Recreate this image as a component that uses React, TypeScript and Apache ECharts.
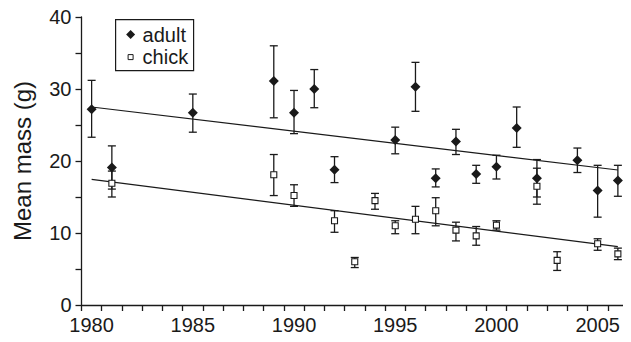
import React, { useEffect, useRef } from "react";
import * as echarts from "echarts";

const adultYears = [1980, 1981, 1985, 1989, 1990, 1991, 1992, 1995, 1996, 1997, 1998, 1999, 2000, 2001, 2002, 2004, 2005, 2006];
const adultMean = [27.2, 19.1, 26.7, 31.1, 26.7, 30.0, 18.8, 22.9, 30.3, 17.6, 22.7, 18.2, 19.2, 24.6, 17.6, 20.1, 15.9, 17.3];
const adultLow = [23.3, 16.1, 24.0, 26.0, 23.8, 27.4, 17.0, 21.0, 26.9, 16.4, 20.9, 16.9, 17.5, 21.9, 15.0, 18.4, 12.2, 15.1];
const adultHigh = [31.2, 22.1, 29.3, 36.0, 29.8, 32.7, 20.6, 24.7, 33.7, 18.9, 24.4, 19.4, 20.8, 27.5, 20.2, 21.8, 19.4, 19.4];

const chickYears = [1981, 1989, 1990, 1992, 1993, 1994, 1995, 1996, 1997, 1998, 1999, 2000, 2002, 2003, 2005, 2006];
const chickMean = [16.9, 18.1, 15.2, 11.7, 6.0, 14.5, 11.0, 11.9, 13.1, 10.4, 9.6, 11.1, 16.5, 6.2, 8.5, 7.1];
const chickLow = [15.0, 15.2, 13.7, 10.1, 5.2, 13.3, 9.9, 9.9, 11.0, 8.9, 8.3, 10.4, 14.0, 4.8, 7.6, 6.3];
const chickHigh = [18.6, 20.9, 16.7, 13.1, 6.6, 15.5, 11.7, 13.7, 14.9, 11.5, 10.9, 11.7, 19.0, 7.4, 9.2, 7.9];

const fitYears = [1980, 2006];
const adultFit = [27.5, 18.75];
const chickFit = [17.45, 8.1];

const xLabelYears = [1980, 1985, 1990, 1995, 2000, 2005];
const yLabelValues = [0, 10, 20, 30, 40];

const FONT = '"Liberation Sans", Arial, Helvetica, sans-serif';
const INK = "#1a1a1a";

function errorBarRender(params: any, api: any) {
  const x = api.value(0);
  const lo = api.coord([x, api.value(1)]);
  const hi = api.coord([x, api.value(2)]);
  const hw = 4;
  const style = { stroke: INK, lineWidth: 1.3 };
  return {
    type: "group",
    children: [
      { type: "line", shape: { x1: lo[0], y1: lo[1], x2: hi[0], y2: hi[1] }, style },
      { type: "line", shape: { x1: lo[0] - hw, y1: lo[1], x2: lo[0] + hw, y2: lo[1] }, style },
      { type: "line", shape: { x1: hi[0] - hw, y1: hi[1], x2: hi[0] + hw, y2: hi[1] }, style },
    ],
  };
}

export default function App() {
  const ref = useRef<HTMLDivElement>(null);
  useEffect(() => {
    if (!ref.current) return;
    const chart = echarts.init(ref.current, undefined, { renderer: "svg" });
    const adultBars = adultYears.map((y, i) => [y, adultLow[i], adultHigh[i]]);
    const chickBars = chickYears.map((y, i) => [y, chickLow[i], chickHigh[i]]);
    chart.setOption({
      animation: false,
      backgroundColor: "#fff",
      textStyle: { fontFamily: FONT },
      grid: { left: 81.5, top: 17, right: -1.8, bottom: 37, containLabel: false },
      xAxis: [
        {
          type: "value",
          min: 1979.5,
          max: 2006.5,
          interval: 1,
          axisLine: { show: true, lineStyle: { color: INK, width: 1.3 } },
          axisTick: { show: true, length: 6, inside: false, lineStyle: { color: INK, width: 1.3 } },
          axisLabel: { show: false },
          splitLine: { show: false },
        },
        {
          type: "value",
          min: 1979.5,
          max: 2006.5,
          interval: 0.5,
          position: "bottom",
          axisLine: { show: false },
          axisTick: { show: false },
          splitLine: { show: false },
          axisLabel: {
            show: true,
            margin: 10,
            fontSize: 20,
            color: INK,
            fontFamily: FONT,
            formatter: (v: number) => (xLabelYears.indexOf(v) >= 0 ? String(v) : ""),
          },
        },
      ],
      yAxis: {
        type: "value",
        min: 0,
        max: 40,
        interval: 5,
        name: "Mean mass (g)",
        nameLocation: "middle",
        nameGap: 47,
        nameRotate: 90,
        nameTextStyle: { fontSize: 24, color: INK, fontFamily: FONT },
        axisLine: { show: true, lineStyle: { color: INK, width: 1.3 } },
        axisTick: { show: true, length: 6, lineStyle: { color: INK, width: 1.3 } },
        axisLabel: {
          margin: 10,
          fontSize: 20,
          color: INK,
          fontFamily: FONT,
          formatter: (v: number) => (yLabelValues.indexOf(v) >= 0 ? String(v) : ""),
        },
        splitLine: { show: false },
      },
      series: [
        {
          type: "line",
          name: "adult fit",
          data: fitYears.map((y, i) => [y, adultFit[i]]),
          showSymbol: false,
          lineStyle: { color: INK, width: 1.2 },
          z: 1,
        },
        {
          type: "line",
          name: "chick fit",
          data: fitYears.map((y, i) => [y, chickFit[i]]),
          showSymbol: false,
          lineStyle: { color: INK, width: 1.2 },
          z: 1,
        },
        {
          type: "custom",
          name: "adult err",
          renderItem: errorBarRender,
          data: adultBars,
          encode: { x: 0, y: [1, 2] },
          z: 2,
        },
        {
          type: "custom",
          name: "chick err",
          renderItem: errorBarRender,
          data: chickBars,
          encode: { x: 0, y: [1, 2] },
          z: 2,
        },
        {
          type: "scatter",
          name: "chick",
          data: chickYears.map((y, i) => [y, chickMean[i]]),
          symbol: "rect",
          symbolSize: 6,
          itemStyle: { color: "#fff", borderColor: INK, borderWidth: 1.1, opacity: 1 },
          z: 3,
        },
        {
          type: "scatter",
          name: "adult",
          data: adultYears.map((y, i) => [y, adultMean[i]]),
          symbol: "diamond",
          symbolSize: 10,
          itemStyle: { color: INK, opacity: 1 },
          z: 4,
        },
      ],
      graphic: [
        {
          type: "group",
          left: 115,
          top: 19,
          children: [
            { type: "rect", shape: { x: 0, y: 0, width: 78, height: 51 }, style: { fill: "#fff", stroke: INK, lineWidth: 1.2 } },
            { type: "polygon", shape: { points: [[15, 10.5], [19.5, 15], [15, 19.5], [10.5, 15]] }, style: { fill: INK } },
            { type: "rect", shape: { x: 12.5, y: 35, width: 5, height: 5 }, style: { fill: "#fff", stroke: INK, lineWidth: 1 } },
            { type: "text", x: 27, y: 15.5, style: { text: "adult", fontSize: 20, fontFamily: FONT, fill: INK, verticalAlign: "middle", align: "left" } },
            { type: "text", x: 27, y: 37.5, style: { text: "chick", fontSize: 20, fontFamily: FONT, fill: INK, verticalAlign: "middle", align: "left" } },
          ],
        },
      ],
    });
    return () => chart.dispose();
  }, []);
  return <div ref={ref} style={{ width: 631, height: 342, margin: -8 }} />;
}
